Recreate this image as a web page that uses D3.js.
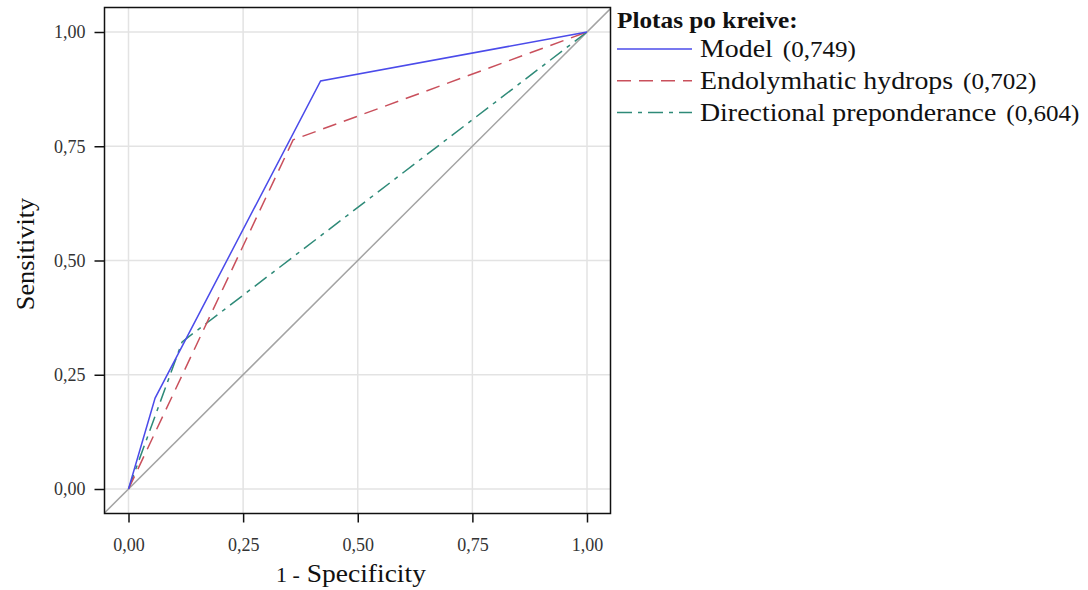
<!DOCTYPE html>
<html>
<head>
<meta charset="utf-8">
<script src="https://cdn.jsdelivr.net/npm/d3@7"></script>
<style>
  html, body { margin: 0; padding: 0; background: #fff; }
  svg { display: block; font-family: "Liberation Serif", "Times New Roman", serif; }
</style>
</head>
<body>
<div id="grafico"></div>
<script>
// data
const tickValues = [0, 0.25, 0.5, 0.75, 1];
const tickLabels = ["0,00", "0,25", "0,50", "0,75", "1,00"];

const seriesNames = ["Model", "Endolymhatic hydrops", "Directional preponderance"];
const seriesAuc = ["(0,749)", "(0,702)", "(0,604)"];

const modelFpr = [0, 0.058, 0.419, 1];
const modelTpr = [0, 0.199, 0.893, 1];

const hydropsFpr = [0, 0.359, 1];
const hydropsTpr = [0, 0.764, 1];

const dpFpr = [0, 0.117, 1];
const dpTpr = [0, 0.322, 1];

const width = 1088;
const height = 590;
const plotLeft = 104.5;
const plotRight = 610.5;
const plotTop = 7.5;
const plotBottom = 513.5;
const stretch = 1.1; // the original text is a bit wider than Liberation Serif

const colores = ["#4b4bea", "#c9505c", "#2e8a78"];
const dashes = [null, "14,8", "15,6,4,6"];

const xScale = d3.scaleLinear()
    .domain([0, 1])
    .range([128.5, 587]);
const yScale = d3.scaleLinear()
    .domain([0, 1])
    .range([489, 32]);

const svg = d3.select("#grafico")
  .append("svg")
  .attr("width", width)
  .attr("height", height);

// grid
svg.append("g")
  .selectAll("line")
  .data(tickValues)
  .enter()
  .append("line")
  .attr("x1", d => xScale(d)).attr("x2", d => xScale(d))
  .attr("y1", plotTop).attr("y2", plotBottom)
  .attr("stroke", "#e3e3e3").attr("stroke-width", 1.5);

svg.append("g")
  .selectAll("line")
  .data(tickValues)
  .enter()
  .append("line")
  .attr("x1", plotLeft).attr("x2", plotRight)
  .attr("y1", d => yScale(d)).attr("y2", d => yScale(d))
  .attr("stroke", "#e3e3e3").attr("stroke-width", 1.5);

// clip to plot area
svg.append("clipPath").attr("id", "clip")
  .append("rect")
  .attr("x", plotLeft).attr("y", plotTop)
  .attr("width", plotRight - plotLeft).attr("height", plotBottom - plotTop);

// reference diagonal across the whole frame
svg.append("line")
  .attr("clip-path", "url(#clip)")
  .attr("x1", xScale(-0.1)).attr("y1", yScale(-0.1))
  .attr("x2", xScale(1.1)).attr("y2", yScale(1.1))
  .attr("stroke", "#a3a3a3").attr("stroke-width", 1.5);

const linea = d3.line()
  .x(d => xScale(d[0]))
  .y(d => yScale(d[1]));

const curvas = [
  d3.zip(modelFpr, modelTpr),
  d3.zip(hydropsFpr, hydropsTpr),
  d3.zip(dpFpr, dpTpr)
];

// draw back to front so the model line is on top
[2, 1, 0].forEach(i => {
  svg.append("path")
    .datum(curvas[i])
    .attr("d", linea)
    .attr("fill", "none")
    .attr("stroke", colores[i])
    .attr("stroke-width", 1.5)
    .attr("stroke-dasharray", dashes[i]);
});

// frame
svg.append("rect")
  .attr("x", plotLeft).attr("y", plotTop)
  .attr("width", plotRight - plotLeft).attr("height", plotBottom - plotTop)
  .attr("fill", "none").attr("stroke", "#111").attr("stroke-width", 1.5);

// axes
const xAxis = d3.axisBottom(xScale)
  .tickValues(tickValues)
  .tickFormat((d, i) => tickLabels[i])
  .tickSize(9)
  .tickPadding(16);

const yAxis = d3.axisLeft(yScale)
  .tickValues(tickValues)
  .tickFormat((d, i) => tickLabels[i])
  .tickSize(10)
  .tickPadding(9);

const gx = svg.append("g")
  .attr("transform", `translate(0,${plotBottom})`)
  .call(xAxis);
const gy = svg.append("g")
  .attr("transform", `translate(${plotLeft},0)`)
  .call(yAxis);

[gx, gy].forEach(g => {
  g.select(".domain").remove();
  g.selectAll(".tick line").attr("stroke", "#111").attr("stroke-width", 1.5);
  g.selectAll(".tick text")
    .attr("fill", "#333")
    .style("font-family", "Liberation Serif, serif")
    .style("font-size", "18px");
});

// axis titles
svg.append("text")
  .attr("transform", `translate(351,582) scale(${stretch},1)`)
  .attr("text-anchor", "middle")
  .style("font-size", "25px")
  .attr("fill", "#111")
  .html('<tspan style="font-size:20px">1 -</tspan> Specificity');

svg.append("text")
  .attr("transform", "translate(34,254) rotate(-90) scale(1.05,1)")
  .attr("text-anchor", "middle")
  .style("font-size", "25px")
  .attr("fill", "#111")
  .text("Sensitivity");

// legend
const leyenda = svg.append("g").attr("transform", "translate(617,0)");

leyenda.append("text")
  .attr("transform", `translate(0,28) scale(${stretch},1)`)
  .style("font-size", "23px")
  .style("font-weight", "bold")
  .attr("fill", "#111")
  .text("Plotas po kreive:");

const filas = leyenda.selectAll("g.fila")
  .data(seriesNames)
  .enter()
  .append("g")
  .attr("transform", (d, i) => `translate(0,${49 + i * 31.8})`);

filas.append("line")
  .attr("x1", 0).attr("x2", 75)
  .attr("y1", 0).attr("y2", 0)
  .attr("stroke", (d, i) => colores[i])
  .attr("stroke-width", 1.5)
  .attr("stroke-dasharray", (d, i) => dashes[i]);

filas.append("text")
  .attr("transform", `translate(83,8) scale(1.115,1)`)
  .style("font-size", "25px")
  .attr("fill", "#111")
  .html((d, i) => `${d}<tspan dx="9" style="font-size:22.5px">${seriesAuc[i]}</tspan>`);
</script>
</body>
</html>
